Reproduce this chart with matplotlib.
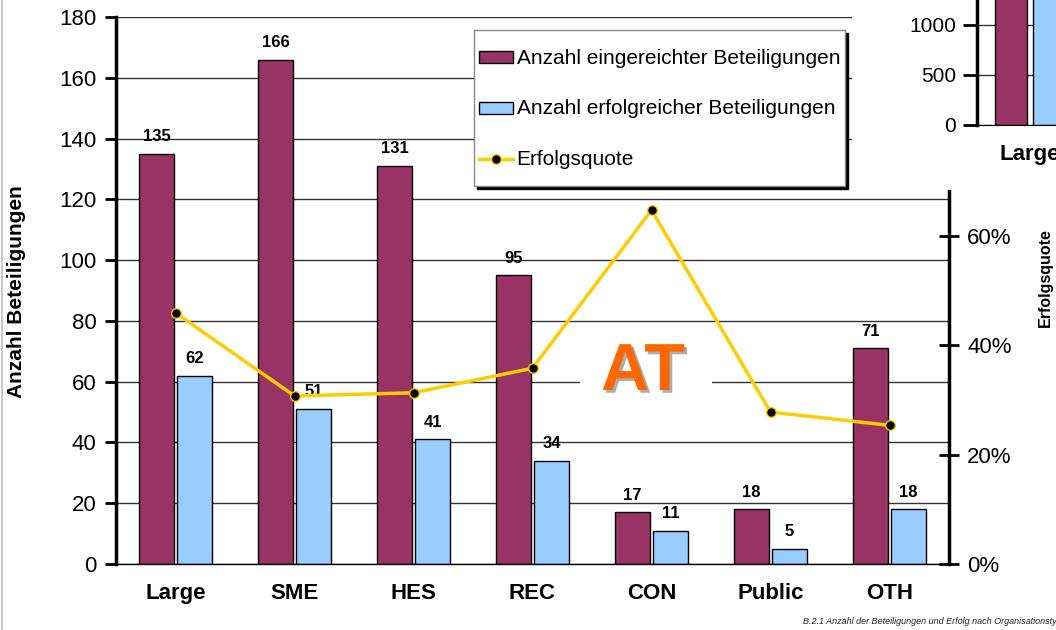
import matplotlib
matplotlib.use("Agg")
import matplotlib.pyplot as plt
import matplotlib.patches as mpatches
import matplotlib.patheffects as pe
from matplotlib.lines import Line2D
from matplotlib.container import BarContainer
from matplotlib.legend_handler import HandlerPatch, HandlerLine2D, update_from_first_child
from matplotlib.ticker import FuncFormatter
import numpy as np

plt.rcParams['font.family'] = ['Liberation Sans', 'DejaVu Sans']

# data
categories = ['Large', 'SME', 'HES', 'REC', 'CON', 'Public', 'OTH']
eingereicht = [135, 166, 131, 95, 17, 18, 71]
erfolgreich = [62, 51, 41, 34, 11, 5, 18]
quote = [e / s for e, s in zip(erfolgreich, eingereicht)]

# small chart in the top right corner (mostly cut off)
inset_cats = ['Large']
inset_eingereicht = [1500]
inset_erfolgreich = [1400]

maroon = '#993366'
lightblue = '#99CCFF'
gold = '#FFCC00'

fig = plt.figure(figsize=(10.56, 6.3), dpi=100)
ax = fig.add_axes([116 / 1056, 66 / 630, 833 / 1056, 547 / 630])
ax2 = ax.twinx()

x = np.arange(len(categories))
w = 0.29
off = 0.16
b1 = ax.bar(x - off, eingereicht, w, color=maroon, edgecolor='black', lw=1, zorder=2,
            label='Anzahl eingereichter Beteiligungen')
b2 = ax.bar(x + off, erfolgreich, w, color=lightblue, edgecolor='black', lw=1, zorder=2,
            label='Anzahl erfolgreicher Beteiligungen')

for i in range(len(categories)):
    ax.annotate(str(eingereicht[i]), (x[i] - off, eingereicht[i]), xytext=(0, 7),
                textcoords='offset points', ha='center', va='bottom', fontsize=12,
                fontweight='bold', zorder=4)
    ax.annotate(str(erfolgreich[i]), (x[i] + off, erfolgreich[i]), xytext=(0, 7),
                textcoords='offset points', ha='center', va='bottom', fontsize=12,
                fontweight='bold', zorder=4)

ax.set_xlim(-0.5, len(categories) - 0.5)
ax.set_ylim(0, 180)
ax.set_yticks(np.arange(0, 181, 20))
ax.yaxis.grid(True, color='#333333', lw=1)
ax.set_axisbelow(True)
ax.set_xticks(x)
ax.set_xticklabels(categories, fontsize=16, fontweight='bold')
ax.tick_params(axis='x', length=0, pad=14)
ax.tick_params(axis='y', direction='out', length=8, width=2, labelsize=16, pad=6)
for s in ['top', 'right']:
    ax.spines[s].set_visible(False)
ax.spines['left'].set_linewidth(2.5)
ax.spines['bottom'].set_linewidth(1)

# secondary axis with success rate
ln, = ax2.plot(x, quote, color=gold, lw=2.5, marker='o', ms=7, mfc='black', mec=gold,
               mew=1, zorder=3, label='Erfolgsquote')
ax2.set_ylim(0, 1.0)
ax2.set_yticks([0, 0.2, 0.4, 0.6])
ax2.yaxis.set_major_formatter(FuncFormatter(lambda v, p: f'{v * 100:.0f}%'))
ax2.tick_params(axis='y', direction='inout', length=14, width=2, labelsize=16, pad=6)
for s in ['top', 'left', 'bottom']:
    ax2.spines[s].set_visible(False)
ax2.spines['right'].set_linewidth(2.5)

fig.text(17 / 1056, 1 - 292 / 630, 'Anzahl Beteiligungen', rotation=90, ha='center',
         va='center', fontsize=15, fontweight='bold')
fig.text(1045 / 1056, 1 - 278 / 630, 'Erfolgsquote', rotation=90, ha='center',
         va='center', fontsize=11.5, fontweight='bold')

# country tag on a white patch that hides the grid lines
ax.add_patch(mpatches.Rectangle((580 / 1056, 1 - 402 / 630), 132 / 1056, 66 / 630,
                                transform=fig.transFigure, facecolor='white',
                                edgecolor='none', zorder=1.4))
ax.text(643 / 1056, 1 - 373 / 630, 'AT', transform=fig.transFigure, ha='center', va='center',
        fontsize=48, fontweight='bold', color='#FF6600', zorder=1.5,
        path_effects=[pe.SimplePatchShadow(offset=(2, -2), shadow_rgbFace='#999999', alpha=0.8),
                      pe.Normal()])


def small_rect(legend, orig_handle, xdescent, ydescent, width, height, fontsize):
    h = 0.58 * fontsize
    return mpatches.Rectangle((-xdescent, -ydescent + (height - h) / 2), width, h)


class CenteredLine(HandlerLine2D):
    def create_artists(self, legend, orig_handle, xdescent, ydescent, width, height,
                       fontsize, trans):
        return super().create_artists(legend, orig_handle, xdescent, 2 * ydescent,
                                      width, height, fontsize, trans)


leg = ax2.legend(handles=[b1, b2, ln], loc='upper left',
                 bbox_to_anchor=(474 / 1056, 1 - 30 / 630), bbox_transform=fig.transFigure,
                 borderaxespad=0, fontsize=15, frameon=True, fancybox=False,
                 edgecolor='#888888', framealpha=1,
                 shadow={'color': 'black', 'alpha': 1},
                 handleheight=2.9, handlelength=1.6, handletextpad=0.2,
                 labelspacing=0.3, borderpad=0.25,
                 handler_map={BarContainer: HandlerPatch(patch_func=small_rect,
                                                         update_func=update_from_first_child),
                              Line2D: CenteredLine()})
leg.get_frame().set_linewidth(1)
leg.set_zorder(10)

# white block holding the cut-off overview chart
fig.add_artist(mpatches.Rectangle((852 / 1056, 1 - 190 / 630), 1, 1, transform=fig.transFigure,
                                  facecolor='white', edgecolor='none', zorder=5))
axi = fig.add_axes([977 / 1056, 1 - 125 / 630, 236 / 1056, 130 / 630], zorder=6)
xi = np.arange(len(inset_cats))
axi.bar(xi - off, inset_eingereicht, 0.27, color=maroon, edgecolor='black', lw=1, zorder=2)
axi.bar(xi + off, inset_erfolgreich, 0.27, color=lightblue, edgecolor='black', lw=1, zorder=2)
axi.set_xlim(-0.45, 1.55)
axi.set_ylim(0, 1300)
axi.set_yticks([0, 500, 1000])
axi.yaxis.grid(True, color='#333333', lw=1)
axi.set_axisbelow(True)
axi.set_xticks(xi)
axi.set_xticklabels(inset_cats, fontsize=16, fontweight='bold')
axi.tick_params(axis='x', length=0, pad=14)
axi.tick_params(axis='y', direction='out', length=10, width=2, labelsize=15, pad=5)
for s in ['top', 'right']:
    axi.spines[s].set_visible(False)
axi.spines['left'].set_linewidth(2.5)

# page border and caption
fig.add_artist(Line2D([0.002, 0.002], [0, 1], transform=fig.transFigure, color='#c8c8c8', lw=1.5))
fig.text(803 / 1056, 1 - 622 / 630, 'B.2.1 Anzahl der Beteiligungen und Erfolg nach Organisationstyp',
         fontsize=6.5, style='italic', ha='left', va='center', color='#222222')

fig.savefig('out.png', dpi=100)
